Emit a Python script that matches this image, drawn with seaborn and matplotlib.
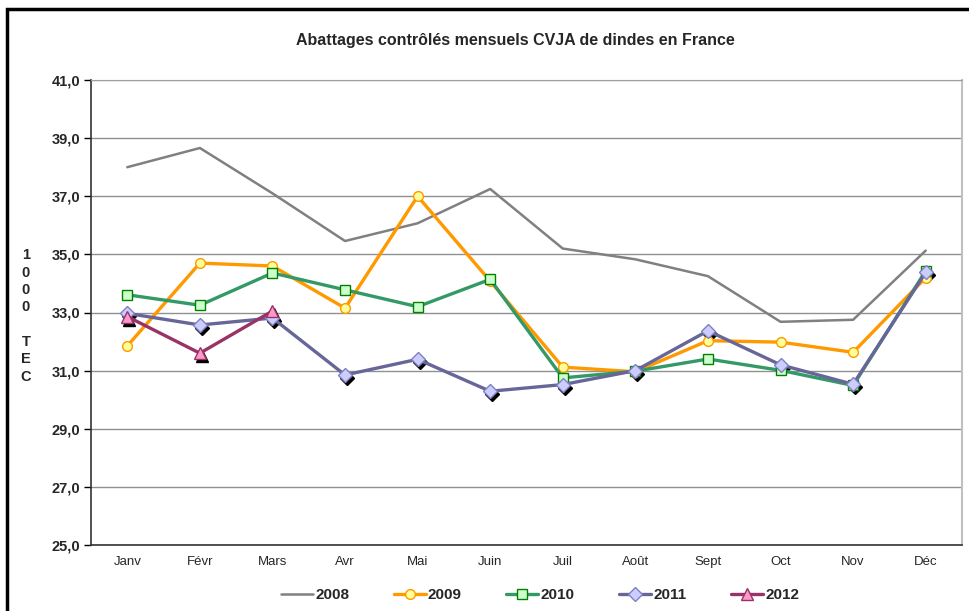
import matplotlib
matplotlib.use("Agg")
import matplotlib.pyplot as plt
import matplotlib.transforms as mtransforms
from matplotlib.patches import Rectangle
import seaborn as sns
import pandas as pd

months = ["Janv", "Févr", "Mars", "Avr", "Mai", "Juin", "Juil", "Août", "Sept", "Oct", "Nov", "Déc"]

v2008 = [38.0, 38.66, 37.1, 35.46, 36.07, 37.25, 35.2, 34.83, 34.25, 32.68, 32.75, 35.13]
v2009 = [31.85, 34.7, 34.6, 33.15, 37.0, 34.08, 31.12, 30.96, 32.03, 31.98, 31.63, 34.2]
v2010 = [33.61, 33.25, 34.36, 33.78, 33.2, 34.14, 30.75, 30.98, 31.4, 31.01, 30.49, 34.43]
v2011 = [32.97, 32.57, 32.81, 30.85, 31.39, 30.29, 30.52, 31.0, 32.37, 31.2, 30.53, 34.38]
v2012 = [32.86, 31.6, 33.05]

yticks = [25, 27, 29, 31, 33, 35, 37, 39, 41]

sns.set_style("white")
plt.rcParams["font.family"] = ["Liberation Sans", "DejaVu Sans"]

fig = plt.figure(figsize=(9.7, 6.11), dpi=100)
ax = fig.add_axes([91 / 970, 66 / 611, 871 / 970, 465 / 611])

# name, values, line colour, marker, face, edge, width, shadow
series = [
    ("2008", v2008, "#808080", None, None, None, 1.8, False),
    ("2009", v2009, "#FF9900", "o", "#FFFF99", "#FF9900", 2.4, False),
    ("2010", v2010, "#339966", "s", "#CCFFCC", "#008000", 2.4, False),
    ("2011", v2011, "#666699", "D", "#CCCCFF", "#8080C0", 2.4, True),
    ("2012", v2012, "#993366", "^", "#FF99CC", "#993366", 2.4, True),
]

for name, vals, col, mk, fc, ec, lw, shad in series:
    df = pd.DataFrame({"mois": months[:len(vals)], "val": vals})
    kw = {}
    if mk:
        kw = dict(marker=mk, markersize=7 if mk != "^" else 8,
                  markerfacecolor=fc, markeredgecolor=ec, markeredgewidth=1)
    sns.lineplot(data=df, x="mois", y="val", color=col, linewidth=lw,
                 label=name, ax=ax, sort=False, **kw)
    if shad:
        line = ax.lines[-1]
        # black shadow under the markers
        shadow = mtransforms.offset_copy(ax.transData, fig=fig, x=2, y=-3, units="dots")
        ax.plot(line.get_xdata(), line.get_ydata(), linestyle="", marker=mk,
                markersize=line.get_markersize(), color="black", transform=shadow,
                zorder=line.get_zorder() - 0.1)
        line.set_zorder(line.get_zorder() + 0.2)

ax.set_xlim(-0.5, 11.5)
ax.set_ylim(25, 41)
ax.set_yticks(yticks)
ax.set_yticklabels([f"{t:.1f}".replace(".", ",") for t in yticks],
                   fontweight="bold", fontsize=10.5)
ax.set_xticks([i - 0.5 for i in range(13)])
ax.set_xticklabels([])
ax.set_xticks(range(12), minor=True)
ax.set_xticklabels(months, minor=True, fontsize=9.5)
ax.tick_params(axis="x", which="minor", length=0, pad=8)
ax.tick_params(axis="x", which="major", length=4, direction="out", color="black", width=1)
ax.tick_params(axis="y", length=5, direction="out", color="black", width=1, pad=3, left=True)
ax.set_xlabel("")
ax.set_ylabel("")

ax.grid(axis="y", color="#909090", linewidth=1)
ax.grid(axis="x", visible=False)
for s in ["left", "bottom"]:
    ax.spines[s].set_color("#333333")
    ax.spines[s].set_linewidth(1.2)
ax.spines["top"].set_color("#a0a0a0")
ax.spines["right"].set_color("#c0c0c0")
ax.spines["right"].set_linewidth(1.5)

ax.legend(loc="lower center", bbox_to_anchor=(540 / 970, -0.008), bbox_transform=fig.transFigure,
          ncol=5, frameon=False, prop={"weight": "bold", "size": 11},
          handlelength=2.1, columnspacing=2.9, handletextpad=0.15)

fig.text(515 / 970, 1 - 40 / 611, "Abattages contrôlés mensuels CVJA de dindes en France",
         ha="center", va="center", fontsize=11.5, fontweight="bold")
fig.text(26 / 970, 1 - 316 / 611, "1\n0\n0\n0\n\nT\nE\nC", ha="center", va="center",
         fontsize=10.5, fontweight="bold", linespacing=1.3)

fig.patches.append(Rectangle((7 / 970, -0.1), 1.2, 1.1 - 9 / 611, transform=fig.transFigure,
                             fill=False, edgecolor="black", linewidth=2.5, clip_on=False))

fig.savefig("out.png", dpi=100)
